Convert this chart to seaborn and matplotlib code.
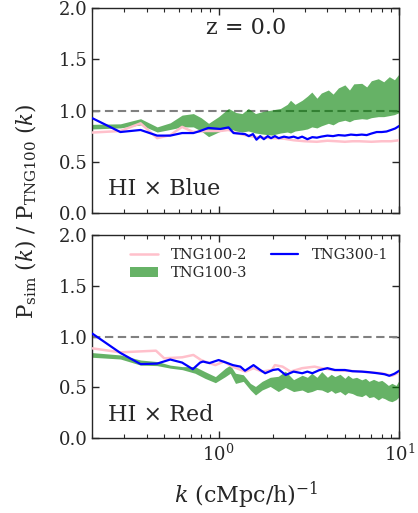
import numpy as np
import matplotlib
matplotlib.use("Agg")
import matplotlib.pyplot as plt
import seaborn as sns
from matplotlib.lines import Line2D
from matplotlib.patches import Patch

# ---------------- data ----------------
# Top panel (HI x Blue)
k_blue_top = [0.2, 0.286, 0.37, 0.457, 0.54, 0.628, 0.725, 0.79, 0.877, 1.02, 1.135, 1.21, 1.3, 1.4,
              1.47, 1.55, 1.62, 1.7, 1.78, 1.87, 1.95, 2.05, 2.15, 2.3, 2.45, 2.6, 2.75, 2.9, 3.1,
              3.3, 3.5, 3.7, 4.0, 4.3, 4.6, 5.0, 5.4, 5.8, 6.2, 6.6, 7.0, 7.5, 8.0, 8.5, 9.0, 9.5, 10.0]
v_blue_top = [0.925, 0.79, 0.81, 0.755, 0.755, 0.78, 0.78, 0.80, 0.83, 0.82, 0.835, 0.78, 0.775, 0.77,
              0.75, 0.77, 0.715, 0.75, 0.72, 0.75, 0.73, 0.75, 0.73, 0.745, 0.735, 0.745, 0.73, 0.745,
              0.72, 0.74, 0.735, 0.745, 0.755, 0.75, 0.76, 0.755, 0.765, 0.76, 0.765, 0.76, 0.775,
              0.79, 0.79, 0.795, 0.81, 0.825, 0.85]

k_pink_top = [0.2, 0.286, 0.37, 0.457, 0.54, 0.628, 0.725, 0.85, 1.02, 1.135, 1.25, 1.4, 1.6, 1.8,
              2.0, 2.3, 2.6, 3.0, 3.5, 4.0, 4.5, 5.0, 5.5, 6.0, 7.0, 8.0, 9.0, 10.0]
v_pink_top = [0.785, 0.80, 0.875, 0.73, 0.76, 0.84, 0.79, 0.80, 0.80, 0.81, 0.78, 0.76, 0.74, 0.735,
              0.73, 0.725, 0.71, 0.70, 0.695, 0.705, 0.70, 0.695, 0.70, 0.70, 0.695, 0.70, 0.70, 0.71]

k_green_top = [0.2, 0.286, 0.37, 0.457, 0.54, 0.628, 0.725, 0.8, 0.88, 1.0, 1.135, 1.25, 1.35, 1.46,
               1.6, 1.75, 1.97, 2.2, 2.4, 2.5, 2.65, 2.9, 3.1, 3.28, 3.5, 3.7, 4.05, 4.3, 4.6, 5.0,
               5.3, 5.6, 6.2, 6.6, 7.0, 7.65, 8.2, 8.8, 9.4, 10.0]
lo_green_top = [0.82, 0.83, 0.86, 0.79, 0.815, 0.84, 0.84, 0.80, 0.745, 0.79, 0.826, 0.80, 0.79, 0.80,
                0.78, 0.77, 0.76, 0.78, 0.79, 0.78, 0.80, 0.81, 0.82, 0.84, 0.83, 0.85, 0.875, 0.86,
                0.89, 0.905, 0.89, 0.91, 0.92, 0.915, 0.93, 0.94, 0.94, 0.95, 0.96, 0.98]
hi_green_top = [0.865, 0.87, 0.92, 0.84, 0.88, 0.955, 0.97, 0.93, 0.875, 0.94, 1.02, 0.98, 0.97, 1.02,
                0.97, 0.99, 1.005, 1.02, 1.06, 1.10, 1.06, 1.10, 1.14, 1.18, 1.12, 1.17, 1.20, 1.16,
                1.22, 1.25, 1.20, 1.26, 1.265, 1.23, 1.29, 1.31, 1.28, 1.33, 1.30, 1.36]

# Bottom panel (HI x Red)
k_blue_bot = [0.2, 0.286, 0.37, 0.457, 0.54, 0.628, 0.72, 0.79, 0.82, 0.89, 1.0, 1.1, 1.2, 1.32, 1.4,
              1.56, 1.7, 1.81, 2.0, 2.14, 2.35, 2.6, 2.9, 3.1, 3.3, 3.6, 4.0, 4.4, 5.0, 5.5, 6.2,
              6.8, 7.6, 8.3, 8.8, 9.4, 10.0]
v_blue_bot = [1.03, 0.84, 0.73, 0.735, 0.775, 0.745, 0.68, 0.745, 0.755, 0.74, 0.77, 0.745, 0.72,
              0.705, 0.665, 0.72, 0.672, 0.64, 0.672, 0.68, 0.623, 0.656, 0.64, 0.656, 0.64, 0.67,
              0.69, 0.672, 0.672, 0.66, 0.656, 0.65, 0.64, 0.63, 0.615, 0.635, 0.665]

k_pink_bot = [0.2, 0.286, 0.45, 0.5, 0.63, 0.725, 0.8, 0.84, 0.96, 1.07, 1.19, 1.41, 1.56, 1.74,
              1.97, 2.05, 2.26, 2.5, 2.9, 3.4, 3.7, 4.4, 6.2, 8.0, 9.1, 10.0]
v_pink_bot = [0.885, 0.846, 0.862, 0.787, 0.797, 0.82, 0.77, 0.755, 0.72, 0.755, 0.705, 0.656, 0.69,
              0.656, 0.672, 0.72, 0.705, 0.656, 0.69, 0.705, 0.69, 0.67, 0.656, 0.64, 0.615, 0.65]

k_green_bot = [0.2, 0.286, 0.37, 0.457, 0.54, 0.63, 0.74, 0.84, 0.96, 1.09, 1.16, 1.24, 1.37, 1.5,
               1.6, 1.74, 1.93, 2.14, 2.34, 2.6, 2.9, 3.1, 3.28, 3.5, 3.72, 4.0, 4.2, 4.4, 4.7, 5.0,
               5.2, 5.5, 5.8, 6.2, 6.5, 6.8, 7.2, 7.65, 8.0, 8.3, 8.7, 9.1, 9.6, 10.0]
lo_green_bot = [0.797, 0.78, 0.72, 0.715, 0.69, 0.675, 0.64, 0.59, 0.547, 0.607, 0.64, 0.54, 0.56,
                0.475, 0.426, 0.475, 0.51, 0.46, 0.50, 0.46, 0.475, 0.45, 0.46, 0.48, 0.475, 0.45,
                0.47, 0.443, 0.46, 0.426, 0.45, 0.44, 0.42, 0.41, 0.43, 0.40, 0.41, 0.377, 0.40,
                0.39, 0.37, 0.36, 0.38, 0.41]
hi_green_bot = [0.843, 0.82, 0.77, 0.755, 0.72, 0.705, 0.705, 0.656, 0.607, 0.69, 0.72, 0.64, 0.625,
                0.54, 0.51, 0.56, 0.60, 0.61, 0.66, 0.577, 0.62, 0.60, 0.64, 0.60, 0.656, 0.60,
                0.63, 0.607, 0.63, 0.59, 0.62, 0.59, 0.60, 0.575, 0.59, 0.56, 0.58, 0.56, 0.57,
                0.55, 0.52, 0.541, 0.52, 0.575]

labels = ["TNG100-2", "TNG100-3", "TNG300-1"]
panel_titles = ["HI \u00d7 Blue", "HI \u00d7 Red"]
redshift_text = "z = 0.0"

# ---------------- style ----------------
sns.set_style("ticks")
plt.rcParams["font.family"] = ["DejaVu Serif"]
plt.rcParams["mathtext.fontset"] = "dejavuserif"

W, H = 418, 513
fig = plt.figure(figsize=(W / 100, H / 100), dpi=100)
L, R = 92.3 / W, 399.3 / W
ax_top = fig.add_axes([L, 1 - 213 / H, R - L, (213 - 8) / H])
ax_bot = fig.add_axes([L, 1 - 438.3 / H, R - L, (438.3 - 235) / H])

PINK, BLUE, GREEN = "pink", "blue", "green"

def draw(ax, kp, vp, kg, lo, hi, kb, vb):
    ax.axhline(1.0, color="gray", ls="--", lw=1.5, dashes=(4, 2.2), zorder=1)
    ax.fill_between(kg, lo, hi, color=GREEN, alpha=0.6, lw=0, zorder=2)
    sns.lineplot(x=kp, y=vp, ax=ax, color=PINK, lw=1.8, zorder=3)
    sns.lineplot(x=kb, y=vb, ax=ax, color=BLUE, lw=1.6, zorder=4)
    ax.set_xscale("log")
    ax.set_xlim(0.2, 10)
    ax.set_ylim(0, 2.0)
    ax.set_yticks([0, 0.5, 1.0, 1.5, 2.0])
    ax.set_ylabel("")
    ax.set_xlabel("")
    ax.tick_params(which="both", direction="in", top=True, right=True, labelsize=13)
    ax.tick_params(which="major", length=5, width=1)
    ax.tick_params(which="minor", length=3, width=0.8)
    for s in ax.spines.values():
        s.set_linewidth(1.0)

draw(ax_top, k_pink_top, v_pink_top, k_green_top, lo_green_top, hi_green_top, k_blue_top, v_blue_top)
draw(ax_bot, k_pink_bot, v_pink_bot, k_green_bot, lo_green_bot, hi_green_bot, k_blue_bot, v_blue_bot)
ax_top.tick_params(labelbottom=False)

ax_top.text(0.5, 0.9, redshift_text, transform=ax_top.transAxes, ha="center", va="center", fontsize=16)
ax_top.text(0.05, 0.115, panel_titles[0], transform=ax_top.transAxes, ha="left", va="center", fontsize=16)
ax_bot.text(0.05, 0.115, panel_titles[1], transform=ax_bot.transAxes, ha="left", va="center", fontsize=16)

handles = [Line2D([], [], color=PINK, lw=1.8),
           Patch(facecolor=GREEN, alpha=0.6, edgecolor="none"),
           Line2D([], [], color=BLUE, lw=1.6)]
ax_bot.legend(handles, labels, ncol=2, frameon=False, fontsize=10.5, loc="upper left",
              bbox_to_anchor=(0.08, 1.0), columnspacing=1.6, handlelength=1.9, handletextpad=0.9,
              labelspacing=0.3)

fig.text(0.062, 0.588, r"$\mathrm{P_{sim}}\ (k)\ /\ \mathrm{P_{TNG100}}\ (k)$", rotation=90,
         ha="center", va="center", fontsize=15.5)
fig.text((L + R) / 2, 1 - 495 / H, r"$k\ \mathrm{(cMpc/h)^{-1}}$", ha="center", va="center", fontsize=16)

fig.savefig("out.png", dpi=100)
